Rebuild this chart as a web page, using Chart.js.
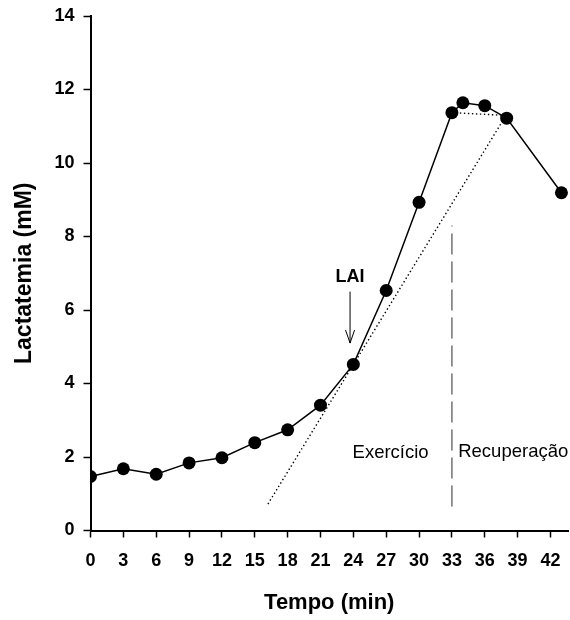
<!DOCTYPE html>
<html>
<head>
<meta charset="utf-8">
<script src="https://cdn.jsdelivr.net/npm/chart.js@4/dist/chart.umd.min.js"></script>
<style>
  html, body { margin: 0; padding: 0; background: #fff; }
  #wrap { width: 570px; height: 620px; position: relative; }
</style>
</head>
<body>
<div id="wrap"><canvas id="c"></canvas></div>
<script>
// Blood lactate during an incremental test and recovery
const tempo      = [0, 3, 6, 9, 12, 15, 18, 21, 24, 27, 30, 33, 34, 36, 38, 43];
const lactatemia = [1.47, 1.68, 1.53, 1.84, 1.98, 2.39, 2.74, 3.41, 4.52, 6.53, 8.93, 11.37, 11.64, 11.56, 11.22, 9.19];

const xTicks = [0, 3, 6, 9, 12, 15, 18, 21, 24, 27, 30, 33, 36, 39, 42];
const yTicks = [0, 2, 4, 6, 8, 10, 12, 14];

// Dotted construction lines (tangent and plateau)
const tangenteX = [16.2, 37.6];
const tangenteY = [0.72, 11.13];
const plateauX  = [33, 37.6];
const plateauY  = [11.37, 11.3];

// Vertical separator between exercise and recovery
const divisaoX = [33, 33];
const divisaoY = [0.65, 8.3];

// LAI marker (arrow from top to bottom) and phase labels
const laiX = 23.7;
const laiY = [6.5, 5.1];
const laiLabelY = 6.91;
const fases = ['Exercício', 'Recuperação'];
const faseX = [27.4, 38.6];
const faseY = [2.12, 2.15];

const FONT = "'Liberation Sans', Arial, Helvetica, sans-serif";

const pts = (xs, ys) => xs.map((x, i) => ({ x, y: ys[i] }));

// Keep the plot area fixed: no extra room reserved for edge tick labels
function noEdgePadding(s) {
  s.paddingTop = 0; s.paddingBottom = 0; s.paddingLeft = 0; s.paddingRight = 0;
}

const annotations = {
  id: 'annotations',
  afterDatasetsDraw(chart) {
    const { ctx, scales: { x, y } } = chart;
    ctx.save();
    // arrow
    const ax = x.getPixelForValue(laiX);
    const y0 = y.getPixelForValue(laiY[0]);
    const y1 = y.getPixelForValue(laiY[1]);
    ctx.strokeStyle = '#000';
    ctx.lineWidth = 1;
    ctx.beginPath();
    ctx.moveTo(ax, y0);
    ctx.lineTo(ax, y1);
    ctx.moveTo(ax - 4.5, y1 - 13);
    ctx.lineTo(ax, y1);
    ctx.lineTo(ax + 4.5, y1 - 13);
    ctx.stroke();
    // LAI label
    ctx.fillStyle = '#000';
    ctx.font = 'bold 18px ' + FONT;
    ctx.textAlign = 'center';
    ctx.textBaseline = 'middle';
    ctx.fillText('LAI', ax, y.getPixelForValue(laiLabelY));
    // phase labels
    ctx.font = '18.5px ' + FONT;
    fases.forEach((t, i) => {
      ctx.fillText(t, x.getPixelForValue(faseX[i]), y.getPixelForValue(faseY[i]));
    });
    ctx.restore();
  }
};

new Chart(document.getElementById('c'), {
  type: 'scatter',
  data: {
    datasets: [
      {
        data: pts(tempo, lactatemia),
        showLine: true,
        borderColor: '#000',
        borderWidth: 1.5,
        backgroundColor: '#000',
        pointRadius: 6.5,
        pointHoverRadius: 6.5,
        pointBorderWidth: 0,
        order: 0
      },
      {
        data: pts(tangenteX, tangenteY),
        showLine: true,
        borderColor: '#000',
        borderWidth: 1.4,
        borderDash: [1.4, 2.6],
        pointRadius: 0,
        order: 2
      },
      {
        data: pts(plateauX, plateauY),
        showLine: true,
        borderColor: '#000',
        borderWidth: 1.4,
        borderDash: [1.4, 2.6],
        pointRadius: 0,
        order: 2
      },
      {
        data: pts(divisaoX, divisaoY),
        showLine: true,
        borderColor: '#7a7a7a',
        borderWidth: 1.6,
        borderDash: [21, 7],
        pointRadius: 0,
        order: 3
      }
    ]
  },
  options: {
    responsive: true,
    maintainAspectRatio: false,
    animation: false,
    events: [],
    layout: { autoPadding: false, padding: { top: 16, right: 2, bottom: 0, left: 0 } },
    plugins: { legend: { display: false }, tooltip: { enabled: false } },
    scales: {
      x: {
        type: 'linear',
        min: 0,
        max: 43.6,
        afterBuildTicks(s) { s.ticks = xTicks.map(v => ({ value: v })); },
        afterFit(s) { s.height = 89.5; noEdgePadding(s); },
        grid: { drawOnChartArea: false, drawTicks: true, tickLength: 7, tickWidth: 1.5, tickColor: '#000' },
        border: { display: true, color: '#000', width: 2 },
        ticks: { color: '#000', padding: 13, maxRotation: 0, autoSkip: false,
                 font: { family: FONT, size: 18, weight: 'bold' } },
        title: { display: true, text: 'Tempo (min)', color: '#000',
                 padding: { top: 0, bottom: 4 },
                 font: { family: FONT, size: 22, weight: 'bold' } }
      },
      y: {
        type: 'linear',
        min: 0,
        max: 14,
        afterBuildTicks(s) { s.ticks = yTicks.map(v => ({ value: v })); },
        afterFit(s) { s.width = 90.5; noEdgePadding(s); },
        grid: { drawOnChartArea: false, drawTicks: true, tickLength: 7, tickWidth: 1.5, tickColor: '#000' },
        border: { display: true, color: '#000', width: 2 },
        ticks: { color: '#000', padding: 9,
                 font: { family: FONT, size: 18, weight: 'bold' } },
        title: { display: true, text: 'Lactatemia (mM)', color: '#000',
                 padding: { top: 11, bottom: 0 },
                 font: { family: FONT, size: 23, weight: 'bold' } }
      }
    }
  },
  plugins: [annotations]
});
</script>
</body>
</html>
